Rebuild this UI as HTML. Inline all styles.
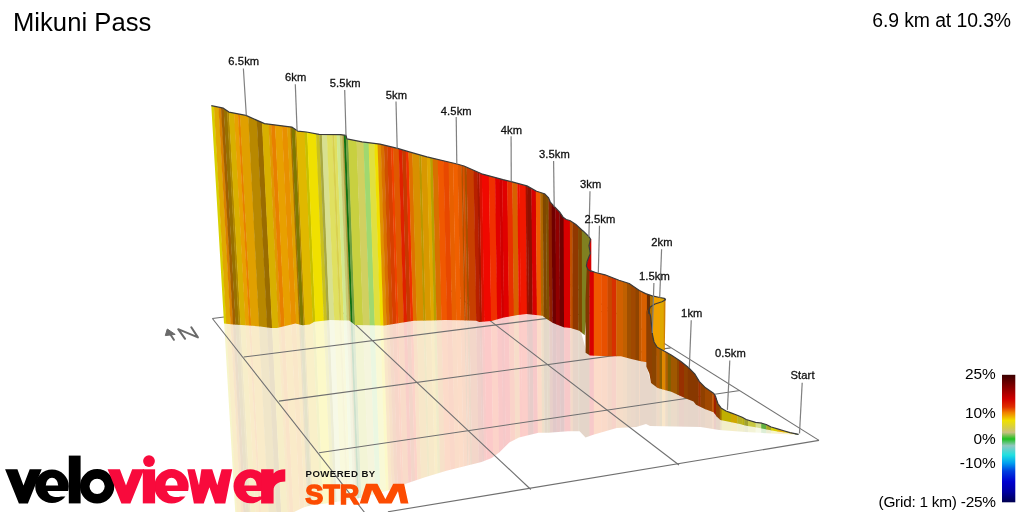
<!DOCTYPE html>
<html><head><meta charset="utf-8"><style>
html,body{margin:0;padding:0;background:#fff;}
body{width:1024px;height:512px;overflow:hidden;position:relative;font-family:"Liberation Sans",sans-serif;}
svg{position:absolute;left:0;top:0;will-change:transform;}
</style></head><body>
<svg width="1024" height="512" viewBox="0 0 1024 512">
<defs>
<linearGradient id="gl" x1="0" y1="0" x2="0" y2="1"><stop offset="0.0000" stop-color="#3a0000"/><stop offset="0.0878" stop-color="#800000"/><stop offset="0.1898" stop-color="#d00000"/><stop offset="0.2525" stop-color="#e03000"/><stop offset="0.2957" stop-color="#f08000"/><stop offset="0.3584" stop-color="#f0e000"/><stop offset="0.4094" stop-color="#d8d040"/><stop offset="0.4518" stop-color="#c8c080"/><stop offset="0.5035" stop-color="#20c020"/><stop offset="0.5561" stop-color="#90c8c0"/><stop offset="0.6290" stop-color="#20e0e0"/><stop offset="0.6918" stop-color="#00a0f0"/><stop offset="0.7545" stop-color="#0040e0"/><stop offset="0.8376" stop-color="#0000d0"/><stop offset="0.9192" stop-color="#0000a0"/><stop offset="1.0000" stop-color="#000050"/></linearGradient>
<clipPath id="k1"><polygon points="211.3,105.7 223.4,108.2 228.9,112.1 245.9,115.4 264.5,123.6 291.8,127.1 297.7,131.1 306.4,132.0 319.1,134.4 340.6,134.6 346.0,135.4 346.9,138.9 362.0,141.8 380.0,144.1 397.6,148.4 409.3,151.9 426.9,156.8 457.1,164.0 464.0,166.0 481.6,173.8 503.0,179.6 511.2,181.6 526.9,185.9 536.6,191.2 544.5,193.7 548.4,197.6 550.3,202.1 554.2,206.4 560.0,212.5 563.1,217.2 566.2,219.5 569.8,220.5 575.6,224.2 581.6,229.8 583.4,231.2 588.9,236.7 590.5,239.0 589.0,245.6 590.3,253.4 587.2,261.2 586.4,266.0 588.0,269.5 591.1,271.4 588.0,300.0 584.7,335.2 579.4,330.8 570.6,328.1 563.6,327.2 553.0,322.9 546.0,318.5 542.5,315.8 526.7,314.1 517.9,315.0 503.8,317.6 491.5,321.1 479.2,322.0 476.2,320.8 461.6,320.2 445.0,320.0 430.0,320.5 413.8,320.8 399.7,323.0 384.4,325.5 355.0,325.0 349.2,320.5 330.0,319.9 314.3,321.7 309.6,324.6 302.6,325.2 295.5,323.4 286.2,325.8 276.8,328.1 271.0,328.1 260.4,326.4 245.2,325.2 233.4,324.6 224.0,323.4"/></clipPath>
<clipPath id="k2"><polygon points="587.0,262.0 590.9,270.9 595.6,272.5 605.0,274.8 619.0,280.3 629.2,283.5 639.4,290.5 645.6,293.6 653.4,296.2 659.7,297.5 664.4,298.3 665.5,299.5 665.3,320.0 664.8,346.9 665.0,349.8 646.8,362.2 639.7,361.0 630.3,358.7 621.0,356.3 607.0,356.3 590.0,355.4 585.6,352.7 585.5,300.0"/></clipPath>
<clipPath id="k3"><polygon points="647.0,309.5 649.0,311.5 650.5,316.0 651.5,325.0 652.5,335.0 654.0,342.0 657.2,347.2 665.0,351.5 671.2,355.0 680.6,361.2 688.4,367.5 694.7,373.8 699.4,381.6 705.6,387.8 713.5,393.2 715.4,396.0 716.6,399.8 717.9,403.5 721.0,407.9 726.0,411.0 731.0,412.9 736.0,414.8 742.2,417.2 746.2,419.5 755.6,422.3 761.9,423.2 766.2,424.5 771.2,427.0 777.5,428.9 783.8,430.8 790.0,432.6 798.6,434.3 798.0,434.8 790.0,433.3 777.5,431.4 768.0,429.8 761.9,428.6 755.6,427.3 746.2,425.8 740.0,423.9 720.4,420.0 716.6,416.6 715.4,414.8 713.5,412.2 704.8,409.1 696.0,404.8 693.5,401.6 686.0,398.5 671.2,391.7 666.4,390.5 657.6,387.9 651.0,383.0 649.4,373.8 646.3,366.4 646.3,312.0"/></clipPath>
<clipPath id="kr"><polygon points="224.0,321.0 430.0,318.0 526.0,312.0 546.0,316.0 580.0,328.0 586.0,350.0 646.0,360.0 646.0,364.0 651.0,383.0 657.6,387.9 671.2,391.7 684.0,396.7 701.5,404.6 713.8,410.5 717.3,416.9 722.6,419.5 736.7,422.4 754.3,425.9 771.8,429.5 798.0,434.6 796.4,434.8 771.8,433.6 745.5,431.9 719.1,430.1 700.7,426.9 675.2,426.6 650.0,425.9 646.0,424.0 636.2,426.9 616.7,427.9 593.3,434.7 585.5,437.6 579.6,431.2 568.0,431.2 548.4,432.7 538.6,432.7 519.0,437.6 509.3,442.5 499.5,452.3 491.7,458.1 481.6,462.0 446.5,470.8 425.0,477.3 405.0,484.0 390.0,490.0 360.0,498.0 330.0,503.0 311.2,505.2 303.4,507.5 294.0,512.0 235.2,512.0"/></clipPath>
</defs>
<g clip-path="url(#kr)" opacity="0.21"><polygon points="195.7,90.0 213.3,90.0 237.6,520.0 221.0,520.0" fill="#d8d000"/><polygon points="213.0,90.0 217.8,90.0 241.7,520.0 237.2,520.0" fill="#e0a800"/><polygon points="217.5,90.0 220.4,90.0 244.1,520.0 241.4,520.0" fill="#d88000"/><polygon points="220.0,90.0 222.9,90.0 246.5,520.0 243.8,520.0" fill="#a06000"/><polygon points="222.6,90.0 226.2,90.0 249.6,520.0 246.2,520.0" fill="#987000"/><polygon points="225.8,90.0 228.0,90.0 251.3,520.0 249.2,520.0" fill="#b08800"/><polygon points="227.7,90.0 233.2,90.0 256.1,520.0 251.0,520.0" fill="#d8b000"/><polygon points="232.8,90.0 237.0,90.0 259.7,520.0 255.8,520.0" fill="#e8a000"/><polygon points="236.7,90.0 239.0,90.0 261.5,520.0 259.4,520.0" fill="#e88000"/><polygon points="238.6,90.0 247.2,90.0 269.3,520.0 261.2,520.0" fill="#e0a000"/><polygon points="246.9,90.0 255.5,90.0 277.1,520.0 268.9,520.0" fill="#b88800"/><polygon points="255.2,90.0 260.7,90.0 281.8,520.0 276.7,520.0" fill="#9a6c00"/><polygon points="260.3,90.0 267.2,90.0 288.0,520.0 281.5,520.0" fill="#d8b000"/><polygon points="266.9,90.0 269.8,90.0 290.4,520.0 287.6,520.0" fill="#e09800"/><polygon points="269.4,90.0 273.6,90.0 294.0,520.0 290.0,520.0" fill="#e88000"/><polygon points="273.3,90.0 280.6,90.0 300.5,520.0 293.6,520.0" fill="#e8a000"/><polygon points="280.3,90.0 285.8,90.0 305.3,520.0 300.2,520.0" fill="#e89000"/><polygon points="285.4,90.0 289.0,90.0 308.3,520.0 305.0,520.0" fill="#e0a000"/><polygon points="288.6,90.0 290.3,90.0 309.5,520.0 308.0,520.0" fill="#a07000"/><polygon points="289.9,90.0 293.4,90.0 312.5,520.0 309.2,520.0" fill="#807800"/><polygon points="293.1,90.0 294.8,90.0 313.8,520.0 312.2,520.0" fill="#b08800"/><polygon points="294.4,90.0 303.1,90.0 321.5,520.0 313.4,520.0" fill="#e0b800"/><polygon points="302.7,90.0 305.6,90.0 323.9,520.0 321.2,520.0" fill="#c8c000"/><polygon points="305.3,90.0 314.6,90.0 332.3,520.0 323.6,520.0" fill="#f0e000"/><polygon points="314.2,90.0 317.8,90.0 335.3,520.0 332.0,520.0" fill="#c8c020"/><polygon points="317.5,90.0 320.4,90.0 337.7,520.0 335.0,520.0" fill="#a8a840"/><polygon points="320.0,90.0 325.5,90.0 342.5,520.0 337.4,520.0" fill="#d8e090"/><polygon points="325.1,90.0 330.7,90.0 347.4,520.0 342.2,520.0" fill="#e0e060"/><polygon points="330.4,90.0 332.7,90.0 349.2,520.0 347.1,520.0" fill="#d8d050"/><polygon points="332.3,90.0 335.2,90.0 351.6,520.0 348.9,520.0" fill="#e0e060"/><polygon points="334.9,90.0 338.4,90.0 354.6,520.0 351.3,520.0" fill="#d0e890"/><polygon points="338.1,90.0 341.0,90.0 357.0,520.0 354.2,520.0" fill="#c8c870"/><polygon points="340.6,90.0 342.5,90.0 358.4,520.0 356.6,520.0" fill="#b0a040"/><polygon points="342.1,90.0 344.3,90.0 360.1,520.0 358.1,520.0" fill="#107010"/><polygon points="344.0,90.0 346.7,90.0 362.4,520.0 359.8,520.0" fill="#70a040"/><polygon points="346.3,90.0 355.0,90.0 370.2,520.0 362.0,520.0" fill="#c8d040"/><polygon points="354.7,90.0 362.1,90.0 376.7,520.0 369.8,520.0" fill="#d0d060"/><polygon points="361.7,90.0 367.2,90.0 381.5,520.0 376.4,520.0" fill="#a0d870"/><polygon points="366.8,90.0 373.0,90.0 386.9,520.0 381.2,520.0" fill="#e0e040"/><polygon points="372.6,90.0 376.2,90.0 390.0,520.0 386.6,520.0" fill="#f0e000"/><polygon points="375.8,90.0 379.4,90.0 392.9,520.0 389.6,520.0" fill="#e09000"/><polygon points="379.0,90.0 382.5,90.0 395.9,520.0 392.6,520.0" fill="#d87000"/><polygon points="382.2,90.0 385.8,90.0 398.9,520.0 395.5,520.0" fill="#d05000"/><polygon points="385.4,90.0 389.6,90.0 402.5,520.0 398.6,520.0" fill="#d84000"/><polygon points="389.3,90.0 391.7,90.0 404.4,520.0 402.2,520.0" fill="#f04000"/><polygon points="391.3,90.0 397.4,90.0 409.8,520.0 404.1,520.0" fill="#e05800"/><polygon points="397.0,90.0 400.6,90.0 412.8,520.0 409.4,520.0" fill="#e02000"/><polygon points="400.3,90.0 404.5,90.0 416.4,520.0 412.5,520.0" fill="#c83800"/><polygon points="404.1,90.0 407.0,90.0 418.8,520.0 416.1,520.0" fill="#f03000"/><polygon points="406.7,90.0 410.9,90.0 422.4,520.0 418.5,520.0" fill="#e07000"/><polygon points="410.5,90.0 417.9,90.0 429.0,520.0 422.0,520.0" fill="#d89000"/><polygon points="417.5,90.0 419.8,90.0 430.8,520.0 428.6,520.0" fill="#b89800"/><polygon points="419.5,90.0 425.6,90.0 436.1,520.0 430.4,520.0" fill="#d89800"/><polygon points="425.2,90.0 428.8,90.0 439.2,520.0 435.8,520.0" fill="#e0a800"/><polygon points="428.4,90.0 431.3,90.0 441.6,520.0 438.8,520.0" fill="#b8a000"/><polygon points="431.0,90.0 436.5,90.0 446.4,520.0 441.2,520.0" fill="#d87000"/><polygon points="436.1,90.0 442.3,90.0 451.8,520.0 446.0,520.0" fill="#f05800"/><polygon points="441.9,90.0 447.4,90.0 456.6,520.0 451.4,520.0" fill="#e84800"/><polygon points="447.0,90.0 451.8,90.0 460.7,520.0 456.2,520.0" fill="#e86000"/><polygon points="451.5,90.0 456.4,90.0 465.0,520.0 460.4,520.0" fill="#f06000"/><polygon points="456.1,90.0 460.3,90.0 468.6,520.0 464.7,520.0" fill="#e05800"/><polygon points="459.9,90.0 461.6,90.0 469.8,520.0 468.3,520.0" fill="#b05000"/><polygon points="461.2,90.0 463.5,90.0 471.6,520.0 469.5,520.0" fill="#d85000"/><polygon points="463.1,90.0 465.4,90.0 473.4,520.0 471.3,520.0" fill="#a85000"/><polygon points="465.1,90.0 472.5,90.0 480.0,520.0 473.1,520.0" fill="#c84000"/><polygon points="472.1,90.0 476.3,90.0 483.6,520.0 479.7,520.0" fill="#b82000"/><polygon points="475.9,90.0 478.2,90.0 485.4,520.0 483.2,520.0" fill="#a81800"/><polygon points="477.9,90.0 480.8,90.0 487.8,520.0 485.1,520.0" fill="#d81000"/><polygon points="480.4,90.0 487.8,90.0 494.4,520.0 487.5,520.0" fill="#f00800"/><polygon points="487.5,90.0 494.2,90.0 500.4,520.0 494.1,520.0" fill="#f03000"/><polygon points="493.8,90.0 498.7,90.0 504.6,520.0 500.0,520.0" fill="#e00000"/><polygon points="498.3,90.0 501.2,90.0 507.0,520.0 504.2,520.0" fill="#d00000"/><polygon points="500.9,90.0 506.4,90.0 511.8,520.0 506.6,520.0" fill="#e00000"/><polygon points="506.0,90.0 511.5,90.0 516.6,520.0 511.4,520.0" fill="#e83000"/><polygon points="511.1,90.0 516.6,90.0 521.3,520.0 516.2,520.0" fill="#d86000"/><polygon points="516.3,90.0 518.7,90.0 523.3,520.0 521.0,520.0" fill="#f01000"/><polygon points="518.3,90.0 525.1,90.0 529.3,520.0 522.9,520.0" fill="#f01800"/><polygon points="524.7,90.0 527.0,90.0 531.0,520.0 528.9,520.0" fill="#a01000"/><polygon points="526.6,90.0 530.8,90.0 534.7,520.0 530.7,520.0" fill="#901000"/><polygon points="530.5,90.0 535.3,90.0 538.8,520.0 534.3,520.0" fill="#d80000"/><polygon points="535.0,90.0 539.8,90.0 543.0,520.0 538.5,520.0" fill="#f05800"/><polygon points="539.4,90.0 542.3,90.0 545.4,520.0 542.7,520.0" fill="#b06800"/><polygon points="542.0,90.0 545.5,90.0 548.4,520.0 545.1,520.0" fill="#804800"/><polygon points="545.2,90.0 548.1,90.0 550.8,520.0 548.1,520.0" fill="#805000"/><polygon points="547.8,90.0 551.3,90.0 553.8,520.0 550.5,520.0" fill="#902000"/><polygon points="551.0,90.0 555.1,90.0 557.4,520.0 553.5,520.0" fill="#700000"/><polygon points="554.8,90.0 559.0,90.0 561.0,520.0 557.0,520.0" fill="#900000"/><polygon points="558.7,90.0 563.5,90.0 565.2,520.0 560.7,520.0" fill="#700000"/><polygon points="563.1,90.0 569.9,90.0 571.2,520.0 564.8,520.0" fill="#d80000"/><polygon points="569.5,90.0 572.4,90.0 573.6,520.0 570.8,520.0" fill="#c05000"/><polygon points="572.1,90.0 578.2,90.0 578.9,520.0 573.2,520.0" fill="#903800"/><polygon points="577.8,90.0 582.1,90.0 582.6,520.0 578.6,520.0" fill="#804800"/><polygon points="581.7,90.0 595.5,90.0 595.1,520.0 582.2,520.0" fill="#808020"/><polygon points="580.0,90.0 589.8,90.0 589.8,520.0 580.0,520.0" fill="#803800"/><polygon points="589.4,90.0 594.1,90.0 594.1,520.0 589.4,520.0" fill="#d80000"/><polygon points="593.8,90.0 601.6,90.0 601.6,520.0 593.8,520.0" fill="#f05800"/><polygon points="601.2,90.0 607.9,90.0 607.9,520.0 601.2,520.0" fill="#e85000"/><polygon points="607.5,90.0 612.2,90.0 612.2,520.0 607.5,520.0" fill="#c84800"/><polygon points="611.9,90.0 616.6,90.0 616.6,520.0 611.9,520.0" fill="#d83000"/><polygon points="616.2,90.0 623.4,90.0 623.4,520.0 616.2,520.0" fill="#d06000"/><polygon points="623.0,90.0 627.4,90.0 627.4,520.0 623.0,520.0" fill="#c06000"/><polygon points="627.0,90.0 631.4,90.0 631.4,520.0 627.0,520.0" fill="#a05000"/><polygon points="631.0,90.0 636.0,90.0 636.0,520.0 631.0,520.0" fill="#a04800"/><polygon points="635.6,90.0 639.4,90.0 639.4,520.0 635.6,520.0" fill="#904400"/><polygon points="639.0,90.0 641.6,90.0 641.6,520.0 639.0,520.0" fill="#c05800"/><polygon points="641.2,90.0 647.2,90.0 647.2,520.0 641.2,520.0" fill="#d86000"/><polygon points="640.0,90.0 652.4,90.0 652.4,520.0 640.0,520.0" fill="#904000"/><polygon points="652.0,90.0 656.9,90.0 656.9,520.0 652.0,520.0" fill="#8a4400"/><polygon points="656.5,90.0 660.0,90.0 660.0,520.0 656.5,520.0" fill="#b05800"/><polygon points="659.6,90.0 662.4,90.0 662.4,520.0 659.6,520.0" fill="#906000"/><polygon points="662.0,90.0 665.6,90.0 665.6,520.0 662.0,520.0" fill="#e08800"/><polygon points="665.2,90.0 668.1,90.0 668.1,520.0 665.2,520.0" fill="#b06000"/><polygon points="667.8,90.0 671.2,90.0 671.2,520.0 667.8,520.0" fill="#806000"/><polygon points="670.9,90.0 677.4,90.0 677.4,520.0 670.9,520.0" fill="#a05800"/><polygon points="677.0,90.0 679.4,90.0 679.4,520.0 677.0,520.0" fill="#904800"/><polygon points="679.0,90.0 684.4,90.0 684.4,520.0 679.0,520.0" fill="#983000"/><polygon points="684.0,90.0 688.1,90.0 688.1,520.0 684.0,520.0" fill="#904000"/><polygon points="687.8,90.0 698.9,90.0 698.9,520.0 687.8,520.0" fill="#883800"/><polygon points="698.5,90.0 700.9,90.0 700.9,520.0 698.5,520.0" fill="#a03000"/><polygon points="700.5,90.0 705.4,90.0 705.4,520.0 700.5,520.0" fill="#904000"/><polygon points="705.0,90.0 712.6,90.0 712.6,520.0 705.0,520.0" fill="#a04800"/><polygon points="712.2,90.0 714.4,90.0 714.4,520.0 712.2,520.0" fill="#c05000"/><polygon points="714.0,90.0 716.4,90.0 716.4,520.0 714.0,520.0" fill="#a02000"/><polygon points="716.0,90.0 720.1,90.0 720.1,520.0 716.0,520.0" fill="#904000"/><polygon points="719.8,90.0 722.0,90.0 722.0,520.0 719.8,520.0" fill="#a07000"/><polygon points="721.6,90.0 731.4,90.0 731.4,520.0 721.6,520.0" fill="#c0b000"/><polygon points="731.0,90.0 737.6,90.0 737.6,520.0 731.0,520.0" fill="#d0a800"/><polygon points="737.2,90.0 742.6,90.0 742.6,520.0 737.2,520.0" fill="#b8b020"/><polygon points="742.2,90.0 744.8,90.0 744.8,520.0 742.2,520.0" fill="#b8b010"/><polygon points="744.4,90.0 748.5,90.0 748.5,520.0 744.4,520.0" fill="#a0a030"/><polygon points="748.1,90.0 756.0,90.0 756.0,520.0 748.1,520.0" fill="#c8c840"/><polygon points="755.6,90.0 761.6,90.0 761.6,520.0 755.6,520.0" fill="#d8e090"/><polygon points="761.2,90.0 766.6,90.0 766.6,520.0 761.2,520.0" fill="#60b040"/><polygon points="766.2,90.0 771.6,90.0 771.6,520.0 766.2,520.0" fill="#a8a820"/><polygon points="771.2,90.0 777.9,90.0 777.9,520.0 771.2,520.0" fill="#d8d000"/><polygon points="777.5,90.0 784.1,90.0 784.1,520.0 777.5,520.0" fill="#e8b000"/><polygon points="783.8,90.0 795.4,90.0 795.4,520.0 783.8,520.0" fill="#e0c000"/><polygon points="795.0,90.0 805.4,90.0 805.4,520.0 795.0,520.0" fill="#306020"/></g>
<line x1="212.4" y1="318.5" x2="366.7" y2="515.2" stroke="#707070" stroke-width="1.1"/>
<line x1="212.4" y1="318.5" x2="226" y2="316.7" stroke="#707070" stroke-width="1.1"/>
<line x1="333.1" y1="303.6" x2="530.8" y2="489.5" stroke="#707070" stroke-width="1.1"/>
<line x1="448.6" y1="289" x2="679" y2="465" stroke="#707070" stroke-width="1.1"/>
<line x1="556" y1="275.6" x2="819" y2="440.4" stroke="#707070" stroke-width="1.1"/>
<line x1="243.75" y1="357" x2="608" y2="310.7" stroke="#707070" stroke-width="1.1"/>
<line x1="278.9" y1="401.1" x2="670.7" y2="347.9" stroke="#707070" stroke-width="1.1"/>
<line x1="319" y1="452.7" x2="740" y2="390.5" stroke="#707070" stroke-width="1.1"/>
<line x1="387.9" y1="511.8" x2="819" y2="440.4" stroke="#707070" stroke-width="1.1"/>
<g clip-path="url(#k1)"><polygon points="195.7,90.0 213.3,90.0 237.6,520.0 221.0,520.0" fill="#d8d000"/><polygon points="213.0,90.0 217.8,90.0 241.7,520.0 237.2,520.0" fill="#e0a800"/><polygon points="217.5,90.0 220.4,90.0 244.1,520.0 241.4,520.0" fill="#d88000"/><polygon points="220.0,90.0 222.9,90.0 246.5,520.0 243.8,520.0" fill="#a06000"/><polygon points="222.6,90.0 226.2,90.0 249.6,520.0 246.2,520.0" fill="#987000"/><polygon points="225.8,90.0 228.0,90.0 251.3,520.0 249.2,520.0" fill="#b08800"/><polygon points="227.7,90.0 233.2,90.0 256.1,520.0 251.0,520.0" fill="#d8b000"/><polygon points="232.8,90.0 237.0,90.0 259.7,520.0 255.8,520.0" fill="#e8a000"/><polygon points="236.7,90.0 239.0,90.0 261.5,520.0 259.4,520.0" fill="#e88000"/><polygon points="238.6,90.0 247.2,90.0 269.3,520.0 261.2,520.0" fill="#e0a000"/><polygon points="246.9,90.0 255.5,90.0 277.1,520.0 268.9,520.0" fill="#b88800"/><polygon points="255.2,90.0 260.7,90.0 281.8,520.0 276.7,520.0" fill="#9a6c00"/><polygon points="260.3,90.0 267.2,90.0 288.0,520.0 281.5,520.0" fill="#d8b000"/><polygon points="266.9,90.0 269.8,90.0 290.4,520.0 287.6,520.0" fill="#e09800"/><polygon points="269.4,90.0 273.6,90.0 294.0,520.0 290.0,520.0" fill="#e88000"/><polygon points="273.3,90.0 280.6,90.0 300.5,520.0 293.6,520.0" fill="#e8a000"/><polygon points="280.3,90.0 285.8,90.0 305.3,520.0 300.2,520.0" fill="#e89000"/><polygon points="285.4,90.0 289.0,90.0 308.3,520.0 305.0,520.0" fill="#e0a000"/><polygon points="288.6,90.0 290.3,90.0 309.5,520.0 308.0,520.0" fill="#a07000"/><polygon points="289.9,90.0 293.4,90.0 312.5,520.0 309.2,520.0" fill="#807800"/><polygon points="293.1,90.0 294.8,90.0 313.8,520.0 312.2,520.0" fill="#b08800"/><polygon points="294.4,90.0 303.1,90.0 321.5,520.0 313.4,520.0" fill="#e0b800"/><polygon points="302.7,90.0 305.6,90.0 323.9,520.0 321.2,520.0" fill="#c8c000"/><polygon points="305.3,90.0 314.6,90.0 332.3,520.0 323.6,520.0" fill="#f0e000"/><polygon points="314.2,90.0 317.8,90.0 335.3,520.0 332.0,520.0" fill="#c8c020"/><polygon points="317.5,90.0 320.4,90.0 337.7,520.0 335.0,520.0" fill="#a8a840"/><polygon points="320.0,90.0 325.5,90.0 342.5,520.0 337.4,520.0" fill="#d8e090"/><polygon points="325.1,90.0 330.7,90.0 347.4,520.0 342.2,520.0" fill="#e0e060"/><polygon points="330.4,90.0 332.7,90.0 349.2,520.0 347.1,520.0" fill="#d8d050"/><polygon points="332.3,90.0 335.2,90.0 351.6,520.0 348.9,520.0" fill="#e0e060"/><polygon points="334.9,90.0 338.4,90.0 354.6,520.0 351.3,520.0" fill="#d0e890"/><polygon points="338.1,90.0 341.0,90.0 357.0,520.0 354.2,520.0" fill="#c8c870"/><polygon points="340.6,90.0 342.5,90.0 358.4,520.0 356.6,520.0" fill="#b0a040"/><polygon points="342.1,90.0 344.3,90.0 360.1,520.0 358.1,520.0" fill="#107010"/><polygon points="344.0,90.0 346.7,90.0 362.4,520.0 359.8,520.0" fill="#70a040"/><polygon points="346.3,90.0 355.0,90.0 370.2,520.0 362.0,520.0" fill="#c8d040"/><polygon points="354.7,90.0 362.1,90.0 376.7,520.0 369.8,520.0" fill="#d0d060"/><polygon points="361.7,90.0 367.2,90.0 381.5,520.0 376.4,520.0" fill="#a0d870"/><polygon points="366.8,90.0 373.0,90.0 386.9,520.0 381.2,520.0" fill="#e0e040"/><polygon points="372.6,90.0 376.2,90.0 390.0,520.0 386.6,520.0" fill="#f0e000"/><polygon points="375.8,90.0 379.4,90.0 392.9,520.0 389.6,520.0" fill="#e09000"/><polygon points="379.0,90.0 382.5,90.0 395.9,520.0 392.6,520.0" fill="#d87000"/><polygon points="382.2,90.0 385.8,90.0 398.9,520.0 395.5,520.0" fill="#d05000"/><polygon points="385.4,90.0 389.6,90.0 402.5,520.0 398.6,520.0" fill="#d84000"/><polygon points="389.3,90.0 391.7,90.0 404.4,520.0 402.2,520.0" fill="#f04000"/><polygon points="391.3,90.0 397.4,90.0 409.8,520.0 404.1,520.0" fill="#e05800"/><polygon points="397.0,90.0 400.6,90.0 412.8,520.0 409.4,520.0" fill="#e02000"/><polygon points="400.3,90.0 404.5,90.0 416.4,520.0 412.5,520.0" fill="#c83800"/><polygon points="404.1,90.0 407.0,90.0 418.8,520.0 416.1,520.0" fill="#f03000"/><polygon points="406.7,90.0 410.9,90.0 422.4,520.0 418.5,520.0" fill="#e07000"/><polygon points="410.5,90.0 417.9,90.0 429.0,520.0 422.0,520.0" fill="#d89000"/><polygon points="417.5,90.0 419.8,90.0 430.8,520.0 428.6,520.0" fill="#b89800"/><polygon points="419.5,90.0 425.6,90.0 436.1,520.0 430.4,520.0" fill="#d89800"/><polygon points="425.2,90.0 428.8,90.0 439.2,520.0 435.8,520.0" fill="#e0a800"/><polygon points="428.4,90.0 431.3,90.0 441.6,520.0 438.8,520.0" fill="#b8a000"/><polygon points="431.0,90.0 436.5,90.0 446.4,520.0 441.2,520.0" fill="#d87000"/><polygon points="436.1,90.0 442.3,90.0 451.8,520.0 446.0,520.0" fill="#f05800"/><polygon points="441.9,90.0 447.4,90.0 456.6,520.0 451.4,520.0" fill="#e84800"/><polygon points="447.0,90.0 451.8,90.0 460.7,520.0 456.2,520.0" fill="#e86000"/><polygon points="451.5,90.0 456.4,90.0 465.0,520.0 460.4,520.0" fill="#f06000"/><polygon points="456.1,90.0 460.3,90.0 468.6,520.0 464.7,520.0" fill="#e05800"/><polygon points="459.9,90.0 461.6,90.0 469.8,520.0 468.3,520.0" fill="#b05000"/><polygon points="461.2,90.0 463.5,90.0 471.6,520.0 469.5,520.0" fill="#d85000"/><polygon points="463.1,90.0 465.4,90.0 473.4,520.0 471.3,520.0" fill="#a85000"/><polygon points="465.1,90.0 472.5,90.0 480.0,520.0 473.1,520.0" fill="#c84000"/><polygon points="472.1,90.0 476.3,90.0 483.6,520.0 479.7,520.0" fill="#b82000"/><polygon points="475.9,90.0 478.2,90.0 485.4,520.0 483.2,520.0" fill="#a81800"/><polygon points="477.9,90.0 480.8,90.0 487.8,520.0 485.1,520.0" fill="#d81000"/><polygon points="480.4,90.0 487.8,90.0 494.4,520.0 487.5,520.0" fill="#f00800"/><polygon points="487.5,90.0 494.2,90.0 500.4,520.0 494.1,520.0" fill="#f03000"/><polygon points="493.8,90.0 498.7,90.0 504.6,520.0 500.0,520.0" fill="#e00000"/><polygon points="498.3,90.0 501.2,90.0 507.0,520.0 504.2,520.0" fill="#d00000"/><polygon points="500.9,90.0 506.4,90.0 511.8,520.0 506.6,520.0" fill="#e00000"/><polygon points="506.0,90.0 511.5,90.0 516.6,520.0 511.4,520.0" fill="#e83000"/><polygon points="511.1,90.0 516.6,90.0 521.3,520.0 516.2,520.0" fill="#d86000"/><polygon points="516.3,90.0 518.7,90.0 523.3,520.0 521.0,520.0" fill="#f01000"/><polygon points="518.3,90.0 525.1,90.0 529.3,520.0 522.9,520.0" fill="#f01800"/><polygon points="524.7,90.0 527.0,90.0 531.0,520.0 528.9,520.0" fill="#a01000"/><polygon points="526.6,90.0 530.8,90.0 534.7,520.0 530.7,520.0" fill="#901000"/><polygon points="530.5,90.0 535.3,90.0 538.8,520.0 534.3,520.0" fill="#d80000"/><polygon points="535.0,90.0 539.8,90.0 543.0,520.0 538.5,520.0" fill="#f05800"/><polygon points="539.4,90.0 542.3,90.0 545.4,520.0 542.7,520.0" fill="#b06800"/><polygon points="542.0,90.0 545.5,90.0 548.4,520.0 545.1,520.0" fill="#804800"/><polygon points="545.2,90.0 548.1,90.0 550.8,520.0 548.1,520.0" fill="#805000"/><polygon points="547.8,90.0 551.3,90.0 553.8,520.0 550.5,520.0" fill="#902000"/><polygon points="551.0,90.0 555.1,90.0 557.4,520.0 553.5,520.0" fill="#700000"/><polygon points="554.8,90.0 559.0,90.0 561.0,520.0 557.0,520.0" fill="#900000"/><polygon points="558.7,90.0 563.5,90.0 565.2,520.0 560.7,520.0" fill="#700000"/><polygon points="563.1,90.0 569.9,90.0 571.2,520.0 564.8,520.0" fill="#d80000"/><polygon points="569.5,90.0 572.4,90.0 573.6,520.0 570.8,520.0" fill="#c05000"/><polygon points="572.1,90.0 578.2,90.0 578.9,520.0 573.2,520.0" fill="#903800"/><polygon points="577.8,90.0 582.1,90.0 582.6,520.0 578.6,520.0" fill="#804800"/><polygon points="581.7,90.0 595.5,90.0 595.1,520.0 582.2,520.0" fill="#808020"/></g>
<g clip-path="url(#k2)"><polygon points="580.0,90.0 589.8,90.0 589.8,520.0 580.0,520.0" fill="#803800"/><polygon points="589.4,90.0 594.1,90.0 594.1,520.0 589.4,520.0" fill="#d80000"/><polygon points="593.8,90.0 601.6,90.0 601.6,520.0 593.8,520.0" fill="#f05800"/><polygon points="601.2,90.0 607.9,90.0 607.9,520.0 601.2,520.0" fill="#e85000"/><polygon points="607.5,90.0 612.2,90.0 612.2,520.0 607.5,520.0" fill="#c84800"/><polygon points="611.9,90.0 616.6,90.0 616.6,520.0 611.9,520.0" fill="#d83000"/><polygon points="616.2,90.0 623.4,90.0 623.4,520.0 616.2,520.0" fill="#d06000"/><polygon points="623.0,90.0 627.4,90.0 627.4,520.0 623.0,520.0" fill="#c06000"/><polygon points="627.0,90.0 631.4,90.0 631.4,520.0 627.0,520.0" fill="#a05000"/><polygon points="631.0,90.0 636.0,90.0 636.0,520.0 631.0,520.0" fill="#a04800"/><polygon points="635.6,90.0 639.4,90.0 639.4,520.0 635.6,520.0" fill="#904400"/><polygon points="639.0,90.0 641.6,90.0 641.6,520.0 639.0,520.0" fill="#c05800"/><polygon points="641.2,90.0 647.2,90.0 647.2,520.0 641.2,520.0" fill="#d86000"/><polygon points="646.9,90.0 650.4,90.0 650.4,520.0 646.9,520.0" fill="#703000"/><polygon points="650.0,90.0 653.4,90.0 653.4,520.0 650.0,520.0" fill="#b07000"/><polygon points="653.0,90.0 660.4,90.0 660.4,520.0 653.0,520.0" fill="#f0a000"/><polygon points="660.0,90.0 664.1,90.0 664.1,520.0 660.0,520.0" fill="#e0a800"/><polygon points="663.8,90.0 670.4,90.0 670.4,520.0 663.8,520.0" fill="#d08000"/></g>
<polygon points="590.5,239 589,245.6 590.3,253.4 587.2,261.25 586.4,266 588,269.5 591.1,271.4 591.3,272 591.3,239" fill="#d80000"/>
<g clip-path="url(#k3)"><polygon points="640.0,90.0 652.4,90.0 652.4,520.0 640.0,520.0" fill="#904000"/><polygon points="652.0,90.0 656.9,90.0 656.9,520.0 652.0,520.0" fill="#8a4400"/><polygon points="656.5,90.0 660.0,90.0 660.0,520.0 656.5,520.0" fill="#b05800"/><polygon points="659.6,90.0 662.4,90.0 662.4,520.0 659.6,520.0" fill="#906000"/><polygon points="662.0,90.0 665.6,90.0 665.6,520.0 662.0,520.0" fill="#e08800"/><polygon points="665.2,90.0 668.1,90.0 668.1,520.0 665.2,520.0" fill="#b06000"/><polygon points="667.8,90.0 671.2,90.0 671.2,520.0 667.8,520.0" fill="#806000"/><polygon points="670.9,90.0 677.4,90.0 677.4,520.0 670.9,520.0" fill="#a05800"/><polygon points="677.0,90.0 679.4,90.0 679.4,520.0 677.0,520.0" fill="#904800"/><polygon points="679.0,90.0 684.4,90.0 684.4,520.0 679.0,520.0" fill="#983000"/><polygon points="684.0,90.0 688.1,90.0 688.1,520.0 684.0,520.0" fill="#904000"/><polygon points="687.8,90.0 698.9,90.0 698.9,520.0 687.8,520.0" fill="#883800"/><polygon points="698.5,90.0 700.9,90.0 700.9,520.0 698.5,520.0" fill="#a03000"/><polygon points="700.5,90.0 705.4,90.0 705.4,520.0 700.5,520.0" fill="#904000"/><polygon points="705.0,90.0 712.6,90.0 712.6,520.0 705.0,520.0" fill="#a04800"/><polygon points="712.2,90.0 714.4,90.0 714.4,520.0 712.2,520.0" fill="#c05000"/><polygon points="714.0,90.0 716.4,90.0 716.4,520.0 714.0,520.0" fill="#a02000"/><polygon points="716.0,90.0 720.1,90.0 720.1,520.0 716.0,520.0" fill="#904000"/><polygon points="719.8,90.0 722.0,90.0 722.0,520.0 719.8,520.0" fill="#a07000"/><polygon points="721.6,90.0 731.4,90.0 731.4,520.0 721.6,520.0" fill="#c0b000"/><polygon points="731.0,90.0 737.6,90.0 737.6,520.0 731.0,520.0" fill="#d0a800"/><polygon points="737.2,90.0 742.6,90.0 742.6,520.0 737.2,520.0" fill="#b8b020"/><polygon points="742.2,90.0 744.8,90.0 744.8,520.0 742.2,520.0" fill="#b8b010"/><polygon points="744.4,90.0 748.5,90.0 748.5,520.0 744.4,520.0" fill="#a0a030"/><polygon points="748.1,90.0 756.0,90.0 756.0,520.0 748.1,520.0" fill="#c8c840"/><polygon points="755.6,90.0 761.6,90.0 761.6,520.0 755.6,520.0" fill="#d8e090"/><polygon points="761.2,90.0 766.6,90.0 766.6,520.0 761.2,520.0" fill="#60b040"/><polygon points="766.2,90.0 771.6,90.0 771.6,520.0 766.2,520.0" fill="#a8a820"/><polygon points="771.2,90.0 777.9,90.0 777.9,520.0 771.2,520.0" fill="#d8d000"/><polygon points="777.5,90.0 784.1,90.0 784.1,520.0 777.5,520.0" fill="#e8b000"/><polygon points="783.8,90.0 795.4,90.0 795.4,520.0 783.8,520.0" fill="#e0c000"/><polygon points="795.0,90.0 805.4,90.0 805.4,520.0 795.0,520.0" fill="#306020"/></g>
<polyline points="211.3,105.7 223.4,108.2 228.9,112.1 245.9,115.4 264.5,123.6 291.8,127.1 297.7,131.1 306.4,132.0 319.1,134.4 340.6,134.6 346.0,135.4 346.9,138.9 362.0,141.8 380.0,144.1 397.6,148.4 409.3,151.9 426.9,156.8 457.1,164.0 464.0,166.0 481.6,173.8 503.0,179.6 511.2,181.6 526.9,185.9 536.6,191.2 544.5,193.7 548.4,197.6 550.3,202.1 554.2,206.4 560.0,212.5 563.1,217.2 566.2,219.5 569.8,220.5 575.6,224.2 581.6,229.8 583.4,231.2 588.9,236.7 590.5,239.0 589.0,245.6 590.3,253.4 587.2,261.2 586.4,266.0 588.0,269.5 591.1,271.4" fill="none" stroke="#3a3a3a" stroke-width="1.2" stroke-linejoin="round"/>
<polyline points="590.9,270.9 595.6,272.5 605.0,274.8 619.0,280.3 629.2,283.5 639.4,290.5 645.6,293.6 653.4,296.2 659.7,297.5 664.4,298.3 665.5,299.5" fill="none" stroke="#3a3a3a" stroke-width="1.2" stroke-linejoin="round"/>
<polyline points="664.4,298.3 665.5,299.8 662.0,301.7 655.0,304.0 650.3,307.0 648.6,311.0 649.0,314.0" fill="none" stroke="#3a3a3a" stroke-width="1.2" stroke-linejoin="round"/>
<polyline points="649.0,311.5 650.5,316.0 651.5,325.0 652.5,335.0 654.0,342.0 657.2,347.2 665.0,351.5 671.2,355.0 680.6,361.2 688.4,367.5 694.7,373.8 699.4,381.6 705.6,387.8 713.5,393.2 715.4,396.0 716.6,399.8 717.9,403.5 721.0,407.9 726.0,411.0 731.0,412.9 736.0,414.8 742.2,417.2 746.2,419.5 755.6,422.3 761.9,423.2 766.2,424.5 771.2,427.0 777.5,428.9 783.8,430.8 790.0,432.6 798.6,434.3" fill="none" stroke="#3a3a3a" stroke-width="1.2" stroke-linejoin="round"/>
<line x1="243.4" y1="68.5" x2="246.3" y2="115.4" stroke="#808080" stroke-width="1.2"/>
<text x="228.3" y="65.4" font-family="Liberation Sans" font-size="11.2" letter-spacing="0.1" fill="#111" stroke="#111" stroke-width="0.3">6.5km</text>
<line x1="295.3" y1="84.2" x2="297.1" y2="131" stroke="#808080" stroke-width="1.2"/>
<text x="284.9" y="81.0" font-family="Liberation Sans" font-size="11.2" letter-spacing="0.1" fill="#111" stroke="#111" stroke-width="0.3">6km</text>
<line x1="344.7" y1="90" x2="346" y2="135.4" stroke="#808080" stroke-width="1.2"/>
<text x="329.8" y="87.3" font-family="Liberation Sans" font-size="11.2" letter-spacing="0.1" fill="#111" stroke="#111" stroke-width="0.3">5.5km</text>
<line x1="396" y1="101.5" x2="397.2" y2="148.4" stroke="#808080" stroke-width="1.2"/>
<text x="385.8" y="99.3" font-family="Liberation Sans" font-size="11.2" letter-spacing="0.1" fill="#111" stroke="#111" stroke-width="0.3">5km</text>
<line x1="456.2" y1="117.1" x2="456.8" y2="163.6" stroke="#808080" stroke-width="1.2"/>
<text x="440.8" y="115.0" font-family="Liberation Sans" font-size="11.2" letter-spacing="0.1" fill="#111" stroke="#111" stroke-width="0.3">4.5km</text>
<line x1="511.1" y1="136.25" x2="511.25" y2="181.6" stroke="#808080" stroke-width="1.2"/>
<text x="500.8" y="134.1" font-family="Liberation Sans" font-size="11.2" letter-spacing="0.1" fill="#111" stroke="#111" stroke-width="0.3">4km</text>
<line x1="553.6" y1="161" x2="554.2" y2="206.4" stroke="#808080" stroke-width="1.2"/>
<text x="538.9" y="157.9" font-family="Liberation Sans" font-size="11.2" letter-spacing="0.1" fill="#111" stroke="#111" stroke-width="0.3">3.5km</text>
<line x1="590" y1="191.2" x2="588.9" y2="236.7" stroke="#808080" stroke-width="1.2"/>
<text x="579.9" y="188.2" font-family="Liberation Sans" font-size="11.2" letter-spacing="0.1" fill="#111" stroke="#111" stroke-width="0.3">3km</text>
<line x1="599.5" y1="225.8" x2="598.3" y2="272.7" stroke="#808080" stroke-width="1.2"/>
<text x="584.5" y="223.2" font-family="Liberation Sans" font-size="11.2" letter-spacing="0.1" fill="#111" stroke="#111" stroke-width="0.3">2.5km</text>
<line x1="661.6" y1="249.2" x2="659.7" y2="297.5" stroke="#808080" stroke-width="1.2"/>
<text x="651.3" y="246.4" font-family="Liberation Sans" font-size="11.2" letter-spacing="0.1" fill="#111" stroke="#111" stroke-width="0.3">2km</text>
<line x1="653.9" y1="283.1" x2="652.3" y2="333" stroke="#808080" stroke-width="1.2"/>
<text x="638.9" y="280.1" font-family="Liberation Sans" font-size="11.2" letter-spacing="0.1" fill="#111" stroke="#111" stroke-width="0.3">1.5km</text>
<line x1="691.25" y1="320.2" x2="689.3" y2="368" stroke="#808080" stroke-width="1.2"/>
<text x="681.1" y="317.3" font-family="Liberation Sans" font-size="11.2" letter-spacing="0.1" fill="#111" stroke="#111" stroke-width="0.3">1km</text>
<line x1="729.8" y1="360.5" x2="727.4" y2="409.9" stroke="#808080" stroke-width="1.2"/>
<text x="715.0" y="356.8" font-family="Liberation Sans" font-size="11.2" letter-spacing="0.1" fill="#111" stroke="#111" stroke-width="0.3">0.5km</text>
<line x1="802.2" y1="382.7" x2="799.5" y2="433.4" stroke="#808080" stroke-width="1.2"/>
<text x="790.5" y="379.3" font-family="Liberation Sans" font-size="11.2" letter-spacing="0.1" fill="#111" stroke="#111" stroke-width="0.3">Start</text>
<g stroke="#6a6a6a" stroke-width="2" fill="none" stroke-linecap="round" stroke-linejoin="round"><line x1="173.9" y1="339.8" x2="167.8" y2="330.5"/><polyline points="185.1,338.8 178.2,329.2 197.9,337.4 191.3,327.3"/></g><polygon points="167.3,329 165.3,335.6 175.2,334.4" fill="#6a6a6a" stroke="#6a6a6a" stroke-width="1" stroke-linejoin="round"/>
<text x="12.9" y="30.8" font-family="Liberation Sans" font-size="25.6" letter-spacing="0.05" fill="#000">Mikuni Pass</text>
<text x="1011" y="26.6" text-anchor="end" font-family="Liberation Sans" font-size="19.4" letter-spacing="-0.09" fill="#000">6.9 km at 10.3%</text>
<rect x="1002" y="374.8" width="13.3" height="127.5" fill="url(#gl)"/>
<text x="995.7" y="379.3" text-anchor="end" font-family="Liberation Sans" font-size="15.4" letter-spacing="0" fill="#000">25%</text>
<text x="995.7" y="417.9" text-anchor="end" font-family="Liberation Sans" font-size="15.4" letter-spacing="0" fill="#000">10%</text>
<text x="995.7" y="443.7" text-anchor="end" font-family="Liberation Sans" font-size="15.4" letter-spacing="0" fill="#000">0%</text>
<text x="995.7" y="468.3" text-anchor="end" font-family="Liberation Sans" font-size="15.4" letter-spacing="0" fill="#000">-10%</text>
<text x="995.7" y="507" text-anchor="end" font-family="Liberation Sans" font-size="15.4" letter-spacing="-0.25" fill="#000">(Grid: 1 km) -25%</text>
<g><path d="M35.20,486.30 A16.8,16.8 0 1 1 68.80,486.30 A16.8,16.8 0 1 1 35.20,486.30 Z M45.80,485.40 A6.2,7.6 0 0 1 58.20,485.40 Z M47.50,490.90 H68.16 A16.8,16.8 0 0 1 65.35,496.50 H61.00 C56.00,497.90 49.00,496.80 47.50,490.90 Z" fill="#000" fill-rule="evenodd"/><polygon points="5.1,469.3 17.4,469.3 23.5,485.5 29.7,469.3 41.7,469.3 27.9,503.4 18.9,503.4" fill="#000"/><rect x="68.8" y="455.6" width="11.8" height="47.8" fill="#000"/><circle cx="97.1" cy="486.3" r="12.4" fill="none" stroke="#000" stroke-width="9.6"/><path d="M154.30,486.30 A17.2,17.2 0 1 1 188.70,486.30 A17.2,17.2 0 1 1 154.30,486.30 Z M165.30,485.40 A6.2,7.6 0 0 1 177.70,485.40 Z M167.00,490.90 H188.07 A17.2,17.2 0 0 1 185.35,496.50 H180.50 C175.50,497.90 168.50,496.80 167.00,490.90 Z" fill="#f80a3c" fill-rule="evenodd"/><polygon points="107.6,469.3 119.9,469.3 126.0,485.5 132.2,469.3 144.2,469.3 130.4,503.4 121.4,503.4" fill="#f80a3c"/><rect x="142.8" y="469.3" width="12.3" height="34.1" fill="#f80a3c"/><circle cx="149" cy="461.1" r="5.9" fill="#f80a3c"/><path d="M233.50,486.30 A17.0,17.0 0 1 1 267.50,486.30 A17.0,17.0 0 1 1 233.50,486.30 Z M244.30,485.40 A6.2,7.6 0 0 1 256.70,485.40 Z M246.00,490.90 H266.87 A17.0,17.0 0 0 1 264.10,496.50 H259.50 C254.50,497.90 247.50,496.80 246.00,490.90 Z" fill="#f80a3c" fill-rule="evenodd"/><polygon points="187.3,469.3 194.8,469.3 199,485.3 201.4,469.3 212.2,469.3 217.3,485.3 221.6,469.3 232.2,469.3 225.3,503.4 215,503.4 209.4,487.2 203.75,503.4 193.9,503.4" fill="#f80a3c"/><path d="M261.1,503.4 V469.3 H273.6 V473.6 C276.5,470.6 280,469.3 285.3,469.3 V481.6 C278.5,481.6 273.6,484.5 273.6,490.5 V503.4 Z" fill="#f80a3c"/></g>
<text x="305.6" y="477" font-family="Liberation Sans" font-weight="bold" font-size="9.6" letter-spacing="0.45" fill="#111">POWERED BY</text>
<text x="305.2" y="503.6" font-family="Liberation Sans" font-weight="bold" font-size="27" fill="#fc4c02" stroke="#fc4c02" stroke-width="1.5">STR</text>
<clipPath id="cs"><rect x="350" y="483.8" width="70" height="19.8"/></clipPath><polyline clip-path="url(#cs)" points="362.4,507.5 371.2,480 385.4,507.5 399.4,480 405.4,507.5" fill="none" stroke="#fc4c02" stroke-width="7.6" stroke-linejoin="miter" stroke-miterlimit="10"/>
</svg>
</body></html>
